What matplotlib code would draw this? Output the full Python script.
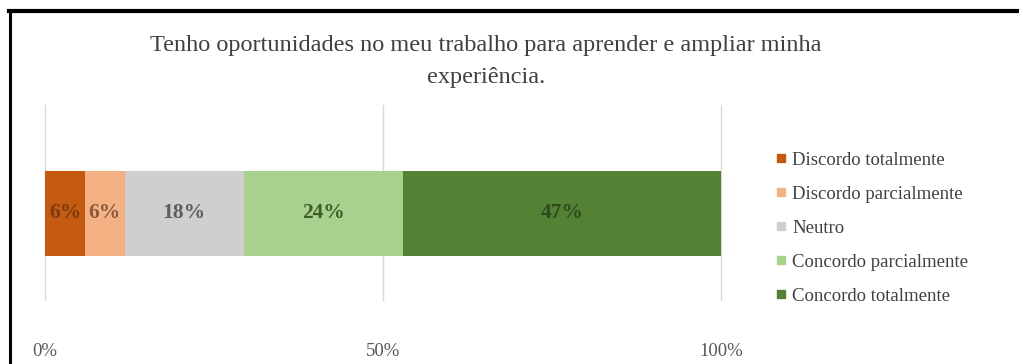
import matplotlib

matplotlib.use("Agg")
import matplotlib.pyplot as plt
from matplotlib.lines import Line2D

# survey answers (share of respondents, %)
categories = ["Discordo totalmente", "Discordo parcialmente", "Neutro",
              "Concordo parcialmente", "Concordo totalmente"]
shares = [100 / 17, 100 / 17, 300 / 17, 400 / 17, 800 / 17]
ticks = [0, 50, 100]
tick_labels = ["0%", "50%", "100%"]

colors = ["#C55A11", "#F4B183", "#D0CECE", "#A9D18E", "#548235"]
label_colors = ["#7B3A10", "#8A5A3A", "#5E5E5E", "#3D5E28", "#2F4A1E"]

plt.rcParams["font.family"] = ["Liberation Serif", "DejaVu Serif"]

fig = plt.figure(figsize=(10.19, 3.64), dpi=100)
ax = fig.add_axes([45 / 1019, 1 - 300 / 364, 676 / 1019, 195 / 364])

left = 0
for cat, val, c, lc in zip(categories, shares, colors, label_colors):
    ax.barh(0, val, left=left, height=0.436, color=c, zorder=2)
    ax.text(left + val / 2, 0, f"{val:.0f}%", ha="center", va="center",
            fontsize=15.5, fontweight="bold", color=lc, zorder=3)
    left += val

ax.set_xlim(0, 100)
ax.set_ylim(-0.4436, 0.5564)
ax.set_yticks([])
ax.set_xticks(ticks)
ax.set_xticklabels(tick_labels, fontsize=13.5, color="#595959")
ax.tick_params(axis="x", length=0, pad=31)
ax.grid(True, axis="x", color="#D9D9D9", lw=1, zorder=0)
for gl in ax.get_xgridlines():
    gl.set_clip_on(False)
for s in ax.spines.values():
    s.set_visible(False)

fig.text(0.477, 1 - 46 / 364, "Tenho oportunidades no meu trabalho para aprender e ampliar minha",
         ha="center", va="center", fontsize=17.5, color="#404040")
fig.text(0.477, 1 - 77 / 364, "experiência.", ha="center", va="center",
         fontsize=17.5, color="#404040")

handles = [Line2D([], [], marker="s", ls="none", color=c, markersize=6) for c in colors]
fig.legend(handles, categories, loc="upper left", bbox_to_anchor=(768 / 1019, 1 - 144 / 364),
           frameon=False, fontsize=13.5, handlelength=0.6, handletextpad=0.3,
           labelspacing=0.9, borderaxespad=0, labelcolor="#404040")

# black frame on top and left edge
fig.add_artist(Line2D([9 / 1019, 1], [1 - 10.5 / 364] * 2, color="black", lw=3,
                      transform=fig.transFigure))
fig.add_artist(Line2D([10 / 1019] * 2, [0, 1 - 10.5 / 364], color="black", lw=2.2,
                      transform=fig.transFigure))

fig.savefig("out.png", dpi=100)
